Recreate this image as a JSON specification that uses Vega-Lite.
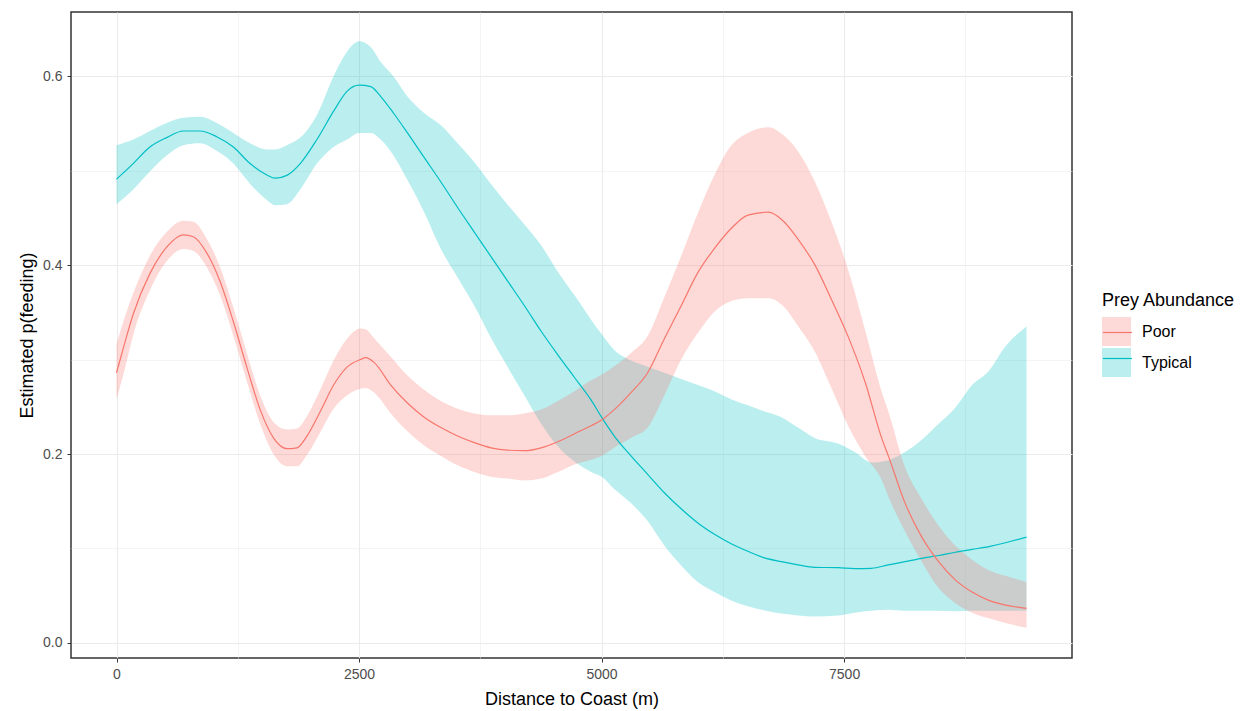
{
  "$schema": "https://vega.github.io/schema/vega-lite/v6.json",
  "width": 1001,
  "height": 646,
  "autosize": {"type": "none"},
  "padding": {"left": 71, "top": 12, "right": 182, "bottom": 53},
  "background": "white",
  "config": {
    "font": "Liberation Sans",
    "view": {"stroke": "#333333", "strokeWidth": 1.5},
    "axis": {
      "domain": false,
      "gridColor": "#EBEBEB",
      "tickColor": "#333333",
      "tickSize": 4,
      "tickWidth": 1,
      "labelColor": "#4D4D4D",
      "labelFontSize": 14,
      "labelPadding": 5,
      "labelFlush": false,
      "labelOverlap": false,
      "titleFontSize": 18,
      "titleFontWeight": "normal",
      "titleColor": "black"
    }
  },
  "datasets": {
    "fits": [
      {"d": 0, "grp": "Typical", "prey": "Typical", "fit": 0.491, "lo": 0.4645, "hi": 0.527},
      {"d": 172, "grp": "Typical", "prey": "Typical", "fit": 0.5075, "lo": 0.48, "hi": 0.533},
      {"d": 344, "grp": "Typical", "prey": "Typical", "fit": 0.525, "lo": 0.499, "hi": 0.542},
      {"d": 517, "grp": "Typical", "prey": "Typical", "fit": 0.535, "lo": 0.516, "hi": 0.5505},
      {"d": 689, "grp": "Typical", "prey": "Typical", "fit": 0.542, "lo": 0.527, "hi": 0.556},
      {"d": 861, "grp": "Typical", "prey": "Typical", "fit": 0.542, "lo": 0.529, "hi": 0.557},
      {"d": 1033, "grp": "Typical", "prey": "Typical", "fit": 0.536, "lo": 0.521, "hi": 0.5505},
      {"d": 1205, "grp": "Typical", "prey": "Typical", "fit": 0.525, "lo": 0.5075, "hi": 0.54},
      {"d": 1377, "grp": "Typical", "prey": "Typical", "fit": 0.5075, "lo": 0.486, "hi": 0.529},
      {"d": 1550, "grp": "Typical", "prey": "Typical", "fit": 0.4955, "lo": 0.469, "hi": 0.5225},
      {"d": 1636, "grp": "Typical", "prey": "Typical", "fit": 0.492, "lo": 0.4635, "hi": 0.5225},
      {"d": 1756, "grp": "Typical", "prey": "Typical", "fit": 0.495, "lo": 0.4645, "hi": 0.527},
      {"d": 1894, "grp": "Typical", "prey": "Typical", "fit": 0.5075, "lo": 0.48, "hi": 0.535},
      {"d": 2066, "grp": "Typical", "prey": "Typical", "fit": 0.533, "lo": 0.5075, "hi": 0.559},
      {"d": 2238, "grp": "Typical", "prey": "Typical", "fit": 0.563, "lo": 0.525, "hi": 0.6},
      {"d": 2376, "grp": "Typical", "prey": "Typical", "fit": 0.584, "lo": 0.533, "hi": 0.626},
      {"d": 2500, "grp": "Typical", "prey": "Typical", "fit": 0.5905, "lo": 0.54, "hi": 0.637},
      {"d": 2620, "grp": "Typical", "prey": "Typical", "fit": 0.589, "lo": 0.54, "hi": 0.631},
      {"d": 2724, "grp": "Typical", "prey": "Typical", "fit": 0.5785, "lo": 0.533, "hi": 0.615},
      {"d": 2862, "grp": "Typical", "prey": "Typical", "fit": 0.56, "lo": 0.515, "hi": 0.599},
      {"d": 2999, "grp": "Typical", "prey": "Typical", "fit": 0.54, "lo": 0.49, "hi": 0.5785},
      {"d": 3171, "grp": "Typical", "prey": "Typical", "fit": 0.514, "lo": 0.456, "hi": 0.561},
      {"d": 3344, "grp": "Typical", "prey": "Typical", "fit": 0.488, "lo": 0.417, "hi": 0.548},
      {"d": 3516, "grp": "Typical", "prey": "Typical", "fit": 0.461, "lo": 0.387, "hi": 0.529},
      {"d": 3688, "grp": "Typical", "prey": "Typical", "fit": 0.435, "lo": 0.357, "hi": 0.509},
      {"d": 3860, "grp": "Typical", "prey": "Typical", "fit": 0.409, "lo": 0.323, "hi": 0.486},
      {"d": 4032, "grp": "Typical", "prey": "Typical", "fit": 0.383, "lo": 0.292, "hi": 0.464},
      {"d": 4205, "grp": "Typical", "prey": "Typical", "fit": 0.357, "lo": 0.262, "hi": 0.443},
      {"d": 4377, "grp": "Typical", "prey": "Typical", "fit": 0.33, "lo": 0.232, "hi": 0.421},
      {"d": 4549, "grp": "Typical", "prey": "Typical", "fit": 0.305, "lo": 0.208, "hi": 0.393},
      {"d": 4721, "grp": "Typical", "prey": "Typical", "fit": 0.281, "lo": 0.192, "hi": 0.368},
      {"d": 4893, "grp": "Typical", "prey": "Typical", "fit": 0.257, "lo": 0.181, "hi": 0.342},
      {"d": 5000, "grp": "Typical", "prey": "Typical", "fit": 0.239, "lo": 0.176, "hi": 0.327},
      {"d": 5131, "grp": "Typical", "prey": "Typical", "fit": 0.219, "lo": 0.163, "hi": 0.31},
      {"d": 5303, "grp": "Typical", "prey": "Typical", "fit": 0.198, "lo": 0.148, "hi": 0.299},
      {"d": 5475, "grp": "Typical", "prey": "Typical", "fit": 0.1785, "lo": 0.129, "hi": 0.2925},
      {"d": 5647, "grp": "Typical", "prey": "Typical", "fit": 0.159, "lo": 0.103, "hi": 0.286},
      {"d": 5820, "grp": "Typical", "prey": "Typical", "fit": 0.142, "lo": 0.082, "hi": 0.2795},
      {"d": 5992, "grp": "Typical", "prey": "Typical", "fit": 0.127, "lo": 0.0645, "hi": 0.273},
      {"d": 6164, "grp": "Typical", "prey": "Typical", "fit": 0.115, "lo": 0.054, "hi": 0.2665},
      {"d": 6336, "grp": "Typical", "prey": "Typical", "fit": 0.105, "lo": 0.045, "hi": 0.258},
      {"d": 6508, "grp": "Typical", "prey": "Typical", "fit": 0.097, "lo": 0.0387, "hi": 0.2515},
      {"d": 6680, "grp": "Typical", "prey": "Typical", "fit": 0.09, "lo": 0.0344, "hi": 0.245},
      {"d": 6853, "grp": "Typical", "prey": "Typical", "fit": 0.086, "lo": 0.031, "hi": 0.239},
      {"d": 7025, "grp": "Typical", "prey": "Typical", "fit": 0.0826, "lo": 0.029, "hi": 0.228},
      {"d": 7197, "grp": "Typical", "prey": "Typical", "fit": 0.08, "lo": 0.028, "hi": 0.217},
      {"d": 7438, "grp": "Typical", "prey": "Typical", "fit": 0.0796, "lo": 0.029, "hi": 0.211},
      {"d": 7610, "grp": "Typical", "prey": "Typical", "fit": 0.0787, "lo": 0.032, "hi": 0.202},
      {"d": 7783, "grp": "Typical", "prey": "Typical", "fit": 0.079, "lo": 0.034, "hi": 0.191},
      {"d": 7956, "grp": "Typical", "prey": "Typical", "fit": 0.0826, "lo": 0.035, "hi": 0.1935},
      {"d": 8128, "grp": "Typical", "prey": "Typical", "fit": 0.086, "lo": 0.034, "hi": 0.202},
      {"d": 8301, "grp": "Typical", "prey": "Typical", "fit": 0.0895, "lo": 0.034, "hi": 0.215},
      {"d": 8474, "grp": "Typical", "prey": "Typical", "fit": 0.0925, "lo": 0.034, "hi": 0.232},
      {"d": 8646, "grp": "Typical", "prey": "Typical", "fit": 0.096, "lo": 0.0335, "hi": 0.249},
      {"d": 8819, "grp": "Typical", "prey": "Typical", "fit": 0.099, "lo": 0.034, "hi": 0.273},
      {"d": 8992, "grp": "Typical", "prey": "Typical", "fit": 0.102, "lo": 0.034, "hi": 0.288},
      {"d": 9164, "grp": "Typical", "prey": "Typical", "fit": 0.106, "lo": 0.034, "hi": 0.314},
      {"d": 9380, "grp": "Typical", "prey": "Typical", "fit": 0.112, "lo": 0.034, "hi": 0.335},
      {"d": 0, "grp": "Poor", "prey": "Poor", "fit": 0.286, "lo": 0.258, "hi": 0.316},
      {"d": 86, "grp": "Poor", "prey": "Poor", "fit": 0.318, "lo": 0.29, "hi": 0.345},
      {"d": 172, "grp": "Poor", "prey": "Poor", "fit": 0.348, "lo": 0.326, "hi": 0.37},
      {"d": 344, "grp": "Poor", "prey": "Poor", "fit": 0.391, "lo": 0.373, "hi": 0.41},
      {"d": 517, "grp": "Poor", "prey": "Poor", "fit": 0.419, "lo": 0.404, "hi": 0.435},
      {"d": 689, "grp": "Poor", "prey": "Poor", "fit": 0.432, "lo": 0.417, "hi": 0.447},
      {"d": 792, "grp": "Poor", "prey": "Poor", "fit": 0.43, "lo": 0.415, "hi": 0.446},
      {"d": 930, "grp": "Poor", "prey": "Poor", "fit": 0.413, "lo": 0.398, "hi": 0.428},
      {"d": 1067, "grp": "Poor", "prey": "Poor", "fit": 0.383, "lo": 0.368, "hi": 0.398},
      {"d": 1205, "grp": "Poor", "prey": "Poor", "fit": 0.34, "lo": 0.325, "hi": 0.355},
      {"d": 1343, "grp": "Poor", "prey": "Poor", "fit": 0.292, "lo": 0.277, "hi": 0.307},
      {"d": 1481, "grp": "Poor", "prey": "Poor", "fit": 0.247, "lo": 0.232, "hi": 0.262},
      {"d": 1618, "grp": "Poor", "prey": "Poor", "fit": 0.217, "lo": 0.2, "hi": 0.234},
      {"d": 1756, "grp": "Poor", "prey": "Poor", "fit": 0.2056, "lo": 0.187, "hi": 0.226},
      {"d": 1860, "grp": "Poor", "prey": "Poor", "fit": 0.2065, "lo": 0.187, "hi": 0.227},
      {"d": 1963, "grp": "Poor", "prey": "Poor", "fit": 0.219, "lo": 0.199, "hi": 0.24},
      {"d": 2100, "grp": "Poor", "prey": "Poor", "fit": 0.245, "lo": 0.223, "hi": 0.268},
      {"d": 2238, "grp": "Poor", "prey": "Poor", "fit": 0.273, "lo": 0.248, "hi": 0.299},
      {"d": 2376, "grp": "Poor", "prey": "Poor", "fit": 0.292, "lo": 0.262, "hi": 0.322},
      {"d": 2514, "grp": "Poor", "prey": "Poor", "fit": 0.3, "lo": 0.269, "hi": 0.333},
      {"d": 2569, "grp": "Poor", "prey": "Poor", "fit": 0.302, "lo": 0.27, "hi": 0.332},
      {"d": 2655, "grp": "Poor", "prey": "Poor", "fit": 0.297, "lo": 0.265, "hi": 0.3225},
      {"d": 2827, "grp": "Poor", "prey": "Poor", "fit": 0.273, "lo": 0.243, "hi": 0.303},
      {"d": 2999, "grp": "Poor", "prey": "Poor", "fit": 0.254, "lo": 0.224, "hi": 0.283},
      {"d": 3171, "grp": "Poor", "prey": "Poor", "fit": 0.239, "lo": 0.209, "hi": 0.268},
      {"d": 3344, "grp": "Poor", "prey": "Poor", "fit": 0.228, "lo": 0.198, "hi": 0.256},
      {"d": 3516, "grp": "Poor", "prey": "Poor", "fit": 0.219, "lo": 0.188, "hi": 0.248},
      {"d": 3688, "grp": "Poor", "prey": "Poor", "fit": 0.212, "lo": 0.181, "hi": 0.243},
      {"d": 3860, "grp": "Poor", "prey": "Poor", "fit": 0.2065, "lo": 0.176, "hi": 0.241},
      {"d": 4032, "grp": "Poor", "prey": "Poor", "fit": 0.204, "lo": 0.174, "hi": 0.241},
      {"d": 4205, "grp": "Poor", "prey": "Poor", "fit": 0.2035, "lo": 0.172, "hi": 0.243},
      {"d": 4377, "grp": "Poor", "prey": "Poor", "fit": 0.2065, "lo": 0.174, "hi": 0.247},
      {"d": 4549, "grp": "Poor", "prey": "Poor", "fit": 0.213, "lo": 0.181, "hi": 0.256},
      {"d": 4721, "grp": "Poor", "prey": "Poor", "fit": 0.2215, "lo": 0.189, "hi": 0.2665},
      {"d": 4893, "grp": "Poor", "prey": "Poor", "fit": 0.23, "lo": 0.194, "hi": 0.278},
      {"d": 5000, "grp": "Poor", "prey": "Poor", "fit": 0.236, "lo": 0.198, "hi": 0.284},
      {"d": 5131, "grp": "Poor", "prey": "Poor", "fit": 0.247, "lo": 0.207, "hi": 0.293},
      {"d": 5303, "grp": "Poor", "prey": "Poor", "fit": 0.265, "lo": 0.217, "hi": 0.307},
      {"d": 5475, "grp": "Poor", "prey": "Poor", "fit": 0.286, "lo": 0.228, "hi": 0.325},
      {"d": 5647, "grp": "Poor", "prey": "Poor", "fit": 0.322, "lo": 0.262, "hi": 0.366},
      {"d": 5821, "grp": "Poor", "prey": "Poor", "fit": 0.357, "lo": 0.3, "hi": 0.41},
      {"d": 5992, "grp": "Poor", "prey": "Poor", "fit": 0.392, "lo": 0.328, "hi": 0.455},
      {"d": 6166, "grp": "Poor", "prey": "Poor", "fit": 0.418, "lo": 0.351, "hi": 0.496},
      {"d": 6338, "grp": "Poor", "prey": "Poor", "fit": 0.439, "lo": 0.362, "hi": 0.527},
      {"d": 6508, "grp": "Poor", "prey": "Poor", "fit": 0.453, "lo": 0.365, "hi": 0.54},
      {"d": 6717, "grp": "Poor", "prey": "Poor", "fit": 0.456, "lo": 0.365, "hi": 0.546},
      {"d": 6870, "grp": "Poor", "prey": "Poor", "fit": 0.447, "lo": 0.357, "hi": 0.538},
      {"d": 7028, "grp": "Poor", "prey": "Poor", "fit": 0.427, "lo": 0.335, "hi": 0.52},
      {"d": 7200, "grp": "Poor", "prey": "Poor", "fit": 0.4, "lo": 0.308, "hi": 0.488},
      {"d": 7372, "grp": "Poor", "prey": "Poor", "fit": 0.363, "lo": 0.269, "hi": 0.445},
      {"d": 7545, "grp": "Poor", "prey": "Poor", "fit": 0.3235, "lo": 0.229, "hi": 0.394},
      {"d": 7717, "grp": "Poor", "prey": "Poor", "fit": 0.276, "lo": 0.198, "hi": 0.331},
      {"d": 7890, "grp": "Poor", "prey": "Poor", "fit": 0.216, "lo": 0.172, "hi": 0.265},
      {"d": 7956, "grp": "Poor", "prey": "Poor", "fit": 0.198, "lo": 0.155, "hi": 0.245},
      {"d": 8128, "grp": "Poor", "prey": "Poor", "fit": 0.148, "lo": 0.118, "hi": 0.186},
      {"d": 8301, "grp": "Poor", "prey": "Poor", "fit": 0.112, "lo": 0.086, "hi": 0.152},
      {"d": 8474, "grp": "Poor", "prey": "Poor", "fit": 0.086, "lo": 0.058, "hi": 0.124},
      {"d": 8646, "grp": "Poor", "prey": "Poor", "fit": 0.0667, "lo": 0.042, "hi": 0.103},
      {"d": 8819, "grp": "Poor", "prey": "Poor", "fit": 0.0538, "lo": 0.032, "hi": 0.088},
      {"d": 8992, "grp": "Poor", "prey": "Poor", "fit": 0.045, "lo": 0.026, "hi": 0.077},
      {"d": 9164, "grp": "Poor", "prey": "Poor", "fit": 0.04, "lo": 0.021, "hi": 0.071},
      {"d": 9380, "grp": "Poor", "prey": "Poor", "fit": 0.0366, "lo": 0.016, "hi": 0.0645}
    ]
  },
  "data": {"name": "fits"},
  "layer": [
    {
      "mark": {"type": "area", "opacity": 0.27, "interpolate": "monotone"},
      "encoding": {
        "x": {
          "field": "d", "type": "quantitative", "title": "Distance to Coast (m)",
          "scale": {"domain": [-469, 9849], "nice": false, "zero": false},
          "axis": {
            "values": [0, 1250, 2500, 3750, 5000, 6250, 7500, 8750],
            "format": "d",
            "labelExpr": "datum.value % 2500 === 0 ? datum.label : ''",
            "tickOpacity": {"condition": {"test": "datum.value % 2500 === 0", "value": 1}, "value": 0},
            "gridWidth": {"condition": {"test": "datum.value % 2500 === 0", "value": 1.1}, "value": 0.55},
            "titlePadding": 9
          }
        },
        "y": {
          "field": "lo", "type": "quantitative", "title": "Estimated p(feeding)",
          "scale": {"domain": [-0.016, 0.668], "nice": false, "zero": false},
          "axis": {
            "values": [0, 0.1, 0.2, 0.3, 0.4, 0.5, 0.6],
            "format": ".1f",
            "labelExpr": "round(datum.value * 10) % 2 === 0 ? datum.label : ''",
            "tickOpacity": {"condition": {"test": "round(datum.value * 10) % 2 === 0", "value": 1}, "value": 0},
            "gridWidth": {"condition": {"test": "round(datum.value * 10) % 2 === 0", "value": 1.1}, "value": 0.55},
            "titlePadding": 6
          }
        },
        "y2": {"field": "hi"},
        "fill": {
          "field": "grp", "type": "nominal",
          "scale": {"range": ["#F8766D", "#00BFC4"]},
          "legend": {
            "title": "Prey Abundance", "orient": "none", "legendX": 1031, "legendY": 280,
            "symbolType": "square", "symbolSize": 841, "symbolOpacity": 0.27, "symbolStrokeWidth": 0,
            "titleFontSize": 18, "titleFontWeight": "normal", "titleColor": "black", "titlePadding": 7,
            "labelFontSize": 16, "labelColor": "black", "labelOffset": 11, "rowPadding": 2
          }
        }
      }
    },
    {
      "mark": {"type": "line", "strokeWidth": 1.2, "interpolate": "monotone"},
      "encoding": {
        "x": {"field": "d", "type": "quantitative", "title": "Distance to Coast (m)"},
        "y": {"field": "fit", "type": "quantitative", "title": "Estimated p(feeding)"},
        "stroke": {
          "field": "prey", "type": "nominal",
          "scale": {"range": ["#F8766D", "#00BFC4"]},
          "legend": {
            "title": null, "orient": "none", "legendX": 1031, "legendY": 305,
            "symbolType": "stroke", "symbolSize": 841, "symbolStrokeWidth": 1.2,
            "labelExpr": "''", "labelFontSize": 16, "labelOffset": 11, "rowPadding": 2
          }
        }
      }
    }
  ]
}
